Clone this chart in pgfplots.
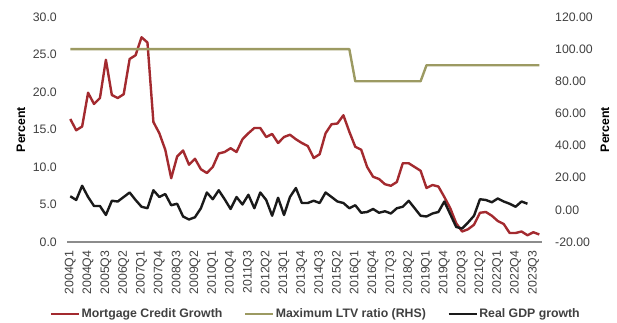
\documentclass[border=0pt]{standalone}
\usepackage{pgfplots}
\pgfplotsset{compat=1.18}
\usepackage{pgfplotstable}
\usepackage{fontspec}
\setmainfont{Liberation Sans}
\definecolor{mred}{HTML}{A32A2F}
\definecolor{ltv}{HTML}{9C9A62}
\definecolor{gdp}{HTML}{1A1A1A}
\definecolor{tick}{HTML}{404040}
\definecolor{axgray}{HTML}{8C8C8C}
\newcommand{\fs}{\fontsize{12.3}{14}\selectfont}

\pgfplotstableread{
x y
0 16.4
1 14.9
2 15.4
3 19.9
4 18.4
5 19.2
6 24.3
7 19.6
8 19.2
9 19.7
10 24.4
11 24.9
12 27.3
13 26.6
14 16.0
15 14.5
16 12.3
17 8.5
18 11.4
19 12.2
20 10.3
21 11.1
22 9.7
23 9.2
24 10.0
25 11.8
26 12.0
27 12.5
28 12.0
29 13.7
30 14.5
31 15.2
32 15.2
33 14.0
34 14.4
35 13.2
36 14.0
37 14.3
38 13.7
39 13.2
40 12.8
41 11.2
42 11.7
43 14.5
44 15.7
45 15.8
46 16.9
47 14.7
48 12.7
49 12.3
50 10.0
51 8.7
52 8.4
53 7.7
54 7.5
55 8.0
56 10.5
57 10.5
58 10.0
59 9.5
60 7.2
61 7.6
62 7.4
63 6.0
64 4.5
65 2.5
66 1.4
67 1.7
68 2.3
69 3.9
70 4.0
71 3.5
72 2.8
73 2.4
74 1.2
75 1.2
76 1.4
77 0.9
78 1.3
79 1.0
}\mortgage

\pgfplotstableread{
x y
0 6.1
1 5.6
2 7.5
3 6.0
4 4.8
5 4.8
6 3.6
7 5.5
8 5.4
9 6.0
10 6.6
11 5.6
12 4.7
13 4.5
14 6.9
15 6.0
16 6.4
17 4.9
18 5.1
19 3.4
20 3.0
21 3.3
22 4.5
23 6.6
24 5.7
25 6.9
26 5.7
27 4.4
28 6.0
29 5.0
30 6.3
31 4.5
32 6.6
33 5.6
34 3.5
35 5.9
36 3.6
37 6.0
38 7.2
39 5.2
40 5.2
41 5.5
42 5.2
43 6.6
44 6.0
45 5.4
46 5.2
47 4.5
48 4.9
49 3.9
50 4.0
51 4.4
52 3.9
53 4.1
54 3.8
55 4.5
56 4.7
57 5.5
58 4.5
59 3.5
60 3.4
61 3.8
62 4.0
63 5.4
64 3.7
65 2.0
66 1.8
67 2.6
68 3.5
69 5.7
70 5.6
71 5.3
72 5.8
73 5.4
74 5.1
75 4.7
76 5.4
77 5.1
}\gdp

\pgfplotstableread{
x y
0 100
47 100
48 80
59 80
60 90
79 90
}\ltvtab

\begin{document}
\begin{tikzpicture}
\begin{axis}[
  at={(0,0)}, anchor=south west,
  scale only axis, width=475pt, height=225pt,
  xmin=-0.5, xmax=79.5, ymin=0, ymax=30,
  axis x line*=bottom, axis y line*=left,
  x axis line style={draw=axgray, line width=1.3pt},
  y axis line style={draw=none},
  major tick length=0pt,
  xtick={0,3,...,78},
  xticklabels={2004Q1,2004Q4,2005Q3,2006Q2,2007Q1,2007Q4,2008Q3,2009Q2,2010Q1,2010Q4,2011Q3,2012Q2,2013Q1,2013Q4,2014Q3,2015Q2,2016Q1,2016Q4,2017Q3,2018Q2,2019Q1,2019Q4,2020Q3,2021Q2,2022Q1,2022Q4,2023Q3},
  xticklabel style={yshift=-8.5pt, rotate=90, anchor=east, inner sep=0pt, font=\fs, text=tick},
  ytick={0,5,...,30},
  yticklabel style={anchor=east, inner sep=0pt, xshift=-10.3pt, font=\fs, text=tick,
    /pgf/number format/.cd, fixed, fixed zerofill, precision=1, assume math mode=true},
  ylabel={\bfseries Percent},
  ylabel style={at={(axis description cs:-0.0975,0.5)}, anchor=center, font=\fs},
  legend style={at={(axis description cs:0.5225,-0.32)}, anchor=center, draw=none, fill=none,
    font=\bfseries\fs, text=tick, legend columns=3,
    nodes={inner sep=1.5pt},
    /tikz/every even column/.append style={column sep=20pt}},
  legend image code/.code={\draw[#1, line width=2.4pt] (0pt,0pt) -- (28pt,0pt);},
  clip=false,
]
\addplot[mred, line width=2.4pt, line join=round, no markers] table[x=x,y=y] {\mortgage};
\addlegendentry{Mortgage Credit Growth}
\addlegendimage{ltv, line width=2.4pt}
\addlegendentry{Maximum LTV ratio (RHS)}
\addplot[gdp, line width=2.4pt, line join=round, no markers] table[x=x,y=y] {\gdp};
\addlegendentry{Real GDP growth}
\end{axis}
\begin{axis}[
  at={(0,0)}, anchor=south west,
  scale only axis, width=475pt, height=225pt,
  xmin=-0.5, xmax=79.5, ymin=-20, ymax=120,
  axis x line=none, axis y line*=right,
  y axis line style={draw=none},
  major tick length=0pt,
  xtick=\empty,
  ytick={-20,0,...,120},
  yticklabel style={anchor=west, inner sep=0pt, xshift=12.7pt, font=\fs, text=tick,
    /pgf/number format/.cd, fixed, fixed zerofill, precision=2, assume math mode=true},
  ylabel={\bfseries Percent},
  ylabel style={at={(axis description cs:1.132,0.5)}, anchor=center, font=\fs},
  clip=false,
]
\addplot[ltv, line width=2.4pt, line join=round, no markers] table[x=x,y=y] {\ltvtab};
\end{axis}
\path (-67.3pt,-81pt) rectangle (549.7pt,242pt);
\end{tikzpicture}
\end{document}
